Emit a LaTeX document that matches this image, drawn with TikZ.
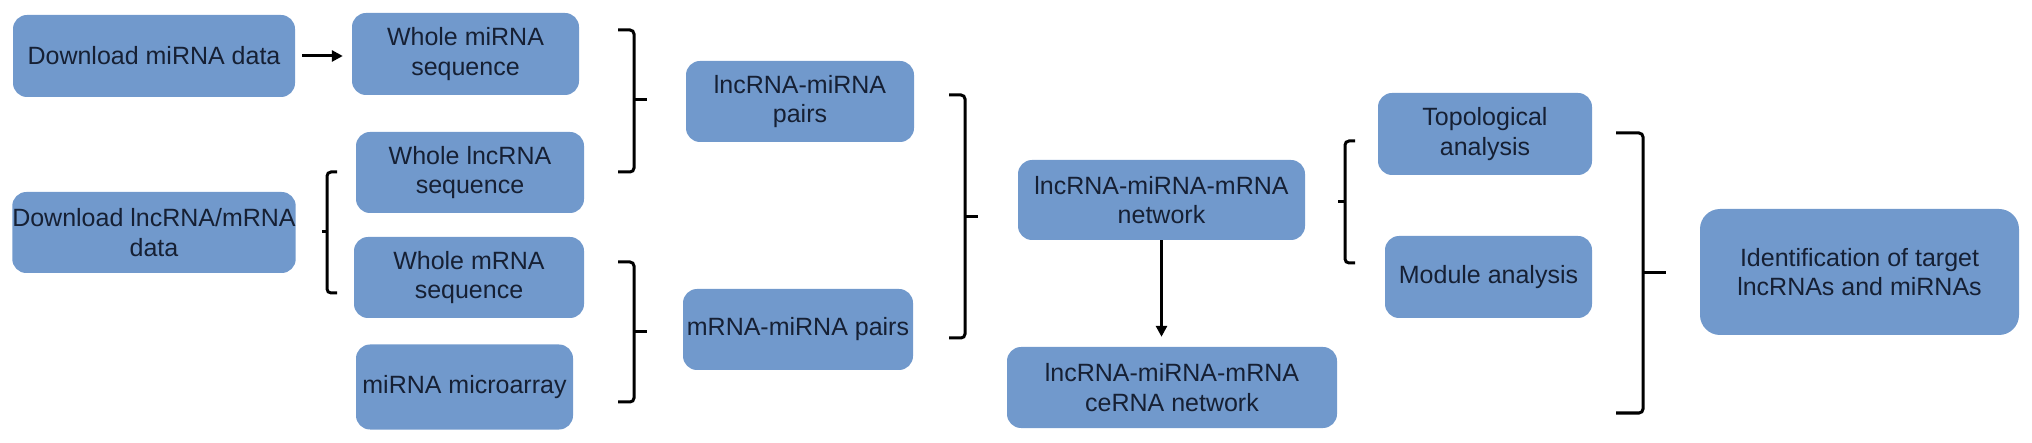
\documentclass[tikz,border=0pt]{standalone}
\usepackage{fontspec}
\setmainfont{Liberation Sans}
\usetikzlibrary{arrows.meta}
\definecolor{boxblue}{RGB}{113,153,204}
\definecolor{boxtext}{RGB}{22,32,52}

\begin{document}
\begin{tikzpicture}[
	  x=1pt, y=-1pt,
	  box/.style={fill=boxblue, rounded corners=14pt, text=boxtext, align=center,
	    inner sep=0pt, font=\fontsize{25}{29.5}\selectfont},
	  brk/.style={line width=3pt, rounded corners=4pt},
	  arr/.style={-{Triangle[length=11pt,width=11pt]}, line width=3pt},
	]
	\useasboundingbox (0,0) rectangle (2032,443);

	\node [box, minimum width=282pt, minimum height=82pt] (dlmi) at (154,56) {Download miRNA data};
	\node [box, minimum width=282pt, minimum height=81pt] (dllnc) at (154,232.5) {Download lncRNA/mRNA\\data};

	\node [box, minimum width=227pt, minimum height=82pt] (wmi) at (465.5,54) {Whole miRNA\\sequence};
	\node [box, minimum width=228pt, minimum height=81pt] (wlnc) at (470,172.5) {Whole lncRNA\\sequence};
	\node [box, minimum width=230pt, minimum height=81pt] (wm) at (469,277.5) {Whole mRNA\\sequence};
	\node [box, minimum width=217pt, minimum height=85pt] (array) at (464.5,387) {miRNA microarray};

	\node [box, minimum width=228pt, minimum height=81pt] (lncpair) at (800,101.5) {lncRNA-miRNA\\pairs};
	\node [box, minimum width=230pt, minimum height=81pt] (mpair) at (798,329.5) {mRNA-miRNA pairs};

	\node [box, minimum width=287pt, minimum height=80pt] (net) at (1161.5,200) {lncRNA-miRNA-mRNA\\network};
	\node [box, minimum width=330pt, minimum height=81pt] (cerna) at (1172,387.5) {lncRNA-miRNA-mRNA\\ceRNA network};

	\node [box, minimum width=214pt, minimum height=82pt] (topo) at (1485,134) {Topological\\analysis};
	\node [box, minimum width=207pt, minimum height=82pt] (module) at (1488.5,277) {Module analysis};

	\node [box, minimum width=319pt, minimum height=126pt, rounded corners=20pt] (ident) at (1859.5,272) {Identification of target\\lncRNAs and miRNAs};

	\draw [arr, shorten <=7pt, shorten >=9pt] (dlmi) -- (dlmi -| wmi.west);
	\draw [arr, shorten >=10pt] (net.south) -- (net.south |- cerna.north);

	% brackets
	\draw [brk] (337,172) -- (327,172) -- (327,293) -- (337,293);
	\draw [brk] (327,232) -- (322,232);
	\draw [brk] (618,30) -- (634,30) -- (634,172) -- (618,172);
	\draw [brk] (634,100) -- (647,100);
	\draw [brk] (618,262) -- (634,262) -- (634,402) -- (618,402);
	\draw [brk] (634,332) -- (647,332);
	\draw [brk] (949,95) -- (965,95) -- (965,338) -- (949,338);
	\draw [brk] (965,217) -- (978,217);
	\draw [brk] (1355,141) -- (1345,141) -- (1345,263) -- (1355,263);
	\draw [brk] (1345,202) -- (1338,202);
	\draw [brk] (1616,133) -- (1643,133) -- (1643,413) -- (1616,413);
	\draw [brk] (1643,273) -- (1666,273);
	\end{tikzpicture}
\end{document}
